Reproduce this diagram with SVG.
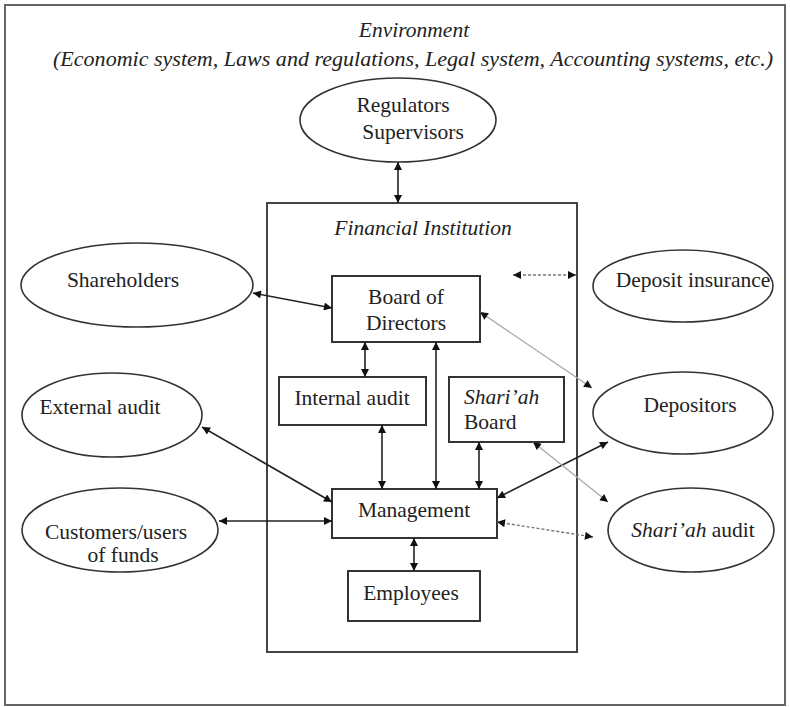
<svg xmlns="http://www.w3.org/2000/svg" width="790" height="707" viewBox="0 0 790 707">
<style>
text{font-family:"Liberation Serif","Times New Roman",serif;font-size:21.5px;fill:#222;text-anchor:middle;dominant-baseline:central}
.it{font-style:italic}
.box{fill:#fff;stroke:#333;stroke-width:2}
.ell{fill:#fff;stroke:#333;stroke-width:1.6}
.c{stroke:#222;stroke-width:1.6;fill:none}
.g{stroke:#aaa;stroke-width:1.4;fill:none}
.d{stroke:#777;stroke-width:1.4;fill:none;stroke-dasharray:3 2}
</style>
<defs>
<marker id="ah" viewBox="0 0 10 10" refX="10" refY="5" markerWidth="10" markerHeight="8" markerUnits="userSpaceOnUse" orient="auto-start-reverse">
<path d="M0,0 L10,5 L0,10 z" fill="#111"/>
</marker>
</defs>
<rect x="0" y="0" width="790" height="707" fill="#fff"/>
<g id="environment">
<rect x="5" y="5" width="780" height="700" fill="none" stroke="#666" stroke-width="2"/>
<text class="it" x="414" y="30">Environment</text>
<text class="it" x="413" y="59" textLength="720" lengthAdjust="spacingAndGlyphs">(Economic system, Laws and regulations, Legal system, Accounting systems, etc.)</text>
</g>
<g id="financial-institution">
<rect x="267" y="203" width="310" height="449" fill="none" stroke="#444" stroke-width="2"/>
<text class="it" x="423" y="228">Financial Institution</text>
</g>
<g id="regulators">
<ellipse class="ell" cx="398" cy="120" rx="98" ry="42"/>
<text x="403" y="105">Regulators</text>
<text x="413" y="132">Supervisors</text>
</g>
<g id="shareholders">
<ellipse class="ell" cx="137" cy="285" rx="116" ry="42"/>
<text x="123" y="280">Shareholders</text>
</g>
<g id="external-audit">
<ellipse class="ell" cx="112" cy="415" rx="90" ry="42"/>
<text x="100" y="407">External audit</text>
</g>
<g id="customers">
<ellipse class="ell" cx="120" cy="530" rx="98" ry="42"/>
<text x="116" y="532">Customers/users</text>
<text x="123" y="555">of funds</text>
</g>
<g id="deposit-insurance">
<ellipse class="ell" cx="683" cy="286" rx="90" ry="36"/>
<text x="693" y="280">Deposit insurance</text>
</g>
<g id="depositors">
<ellipse class="ell" cx="683" cy="413" rx="90" ry="41"/>
<text x="690" y="405">Depositors</text>
</g>
<g id="shariah-audit">
<ellipse class="ell" cx="691" cy="530" rx="83" ry="42"/>
<text x="693" y="530"><tspan class="it">Shari’ah</tspan> audit</text>
</g>
<g id="board-of-directors">
<rect class="box" x="332" y="276" width="148" height="66"/>
<text x="406" y="297">Board of</text>
<text x="406" y="323">Directors</text>
</g>
<g id="internal-audit">
<rect class="box" x="279" y="377" width="147" height="48"/>
<text x="352" y="398">Internal audit</text>
</g>
<g id="shariah-board">
<rect class="box" x="449" y="377" width="115" height="65"/>
<text class="it" x="464" y="397" style="text-anchor:start">Shari’ah</text>
<text x="464" y="422" style="text-anchor:start">Board</text>
</g>
<g id="management">
<rect class="box" x="332" y="489" width="165" height="49"/>
<text x="414" y="510">Management</text>
</g>
<g id="employees">
<rect class="box" x="348" y="571" width="132" height="50"/>
<text x="411" y="593">Employees</text>
</g>
<g id="connectors">
<line class="c" x1="398" y1="162" x2="398" y2="203" marker-start="url(#ah)" marker-end="url(#ah)"/>
<line class="c" x1="253" y1="293" x2="332" y2="308" marker-start="url(#ah)" marker-end="url(#ah)"/>
<line class="c" x1="202" y1="427" x2="332" y2="502" marker-start="url(#ah)" marker-end="url(#ah)"/>
<line class="c" x1="219" y1="521" x2="332" y2="521" marker-start="url(#ah)" marker-end="url(#ah)"/>
<line class="c" x1="365" y1="342" x2="365" y2="377" marker-start="url(#ah)" marker-end="url(#ah)"/>
<line class="c" x1="382" y1="425" x2="382" y2="489" marker-start="url(#ah)" marker-end="url(#ah)"/>
<line class="c" x1="436" y1="342" x2="436" y2="489" marker-start="url(#ah)" marker-end="url(#ah)"/>
<line class="c" x1="479" y1="442" x2="479" y2="489" marker-start="url(#ah)" marker-end="url(#ah)"/>
<line class="c" x1="414" y1="538" x2="414" y2="571" marker-start="url(#ah)" marker-end="url(#ah)"/>
<line class="c" x1="497" y1="498" x2="608" y2="442" marker-start="url(#ah)" marker-end="url(#ah)"/>
<line class="g" x1="480" y1="312" x2="592" y2="388" marker-start="url(#ah)" marker-end="url(#ah)"/>
<line class="g" x1="533" y1="442" x2="608" y2="502" marker-start="url(#ah)" marker-end="url(#ah)"/>
<line class="d" x1="497" y1="522" x2="593" y2="537" marker-start="url(#ah)" marker-end="url(#ah)"/>
<line class="d" x1="513" y1="275" x2="576" y2="275" marker-start="url(#ah)" marker-end="url(#ah)"/>
</g>
</svg>
